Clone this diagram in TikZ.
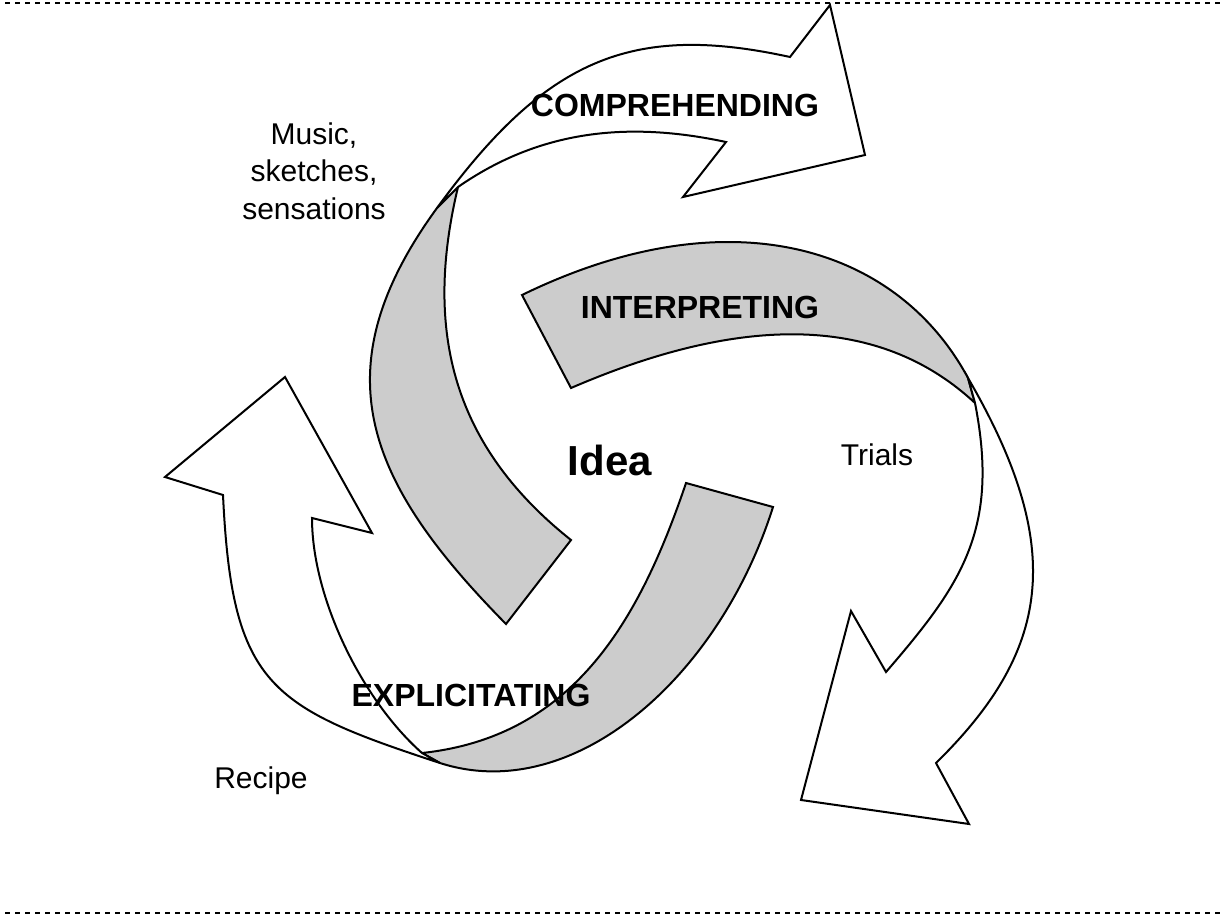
\documentclass[tikz,border=0pt]{standalone}
\usepackage{fontspec}
\setmainfont{Liberation Sans}
\definecolor{grisruban}{HTML}{CCCCCC}
\tikzset{
  rib/.style = {draw=black, line width=2pt, line join=miter},
  rib_g/.style = {rib, fill=grisruban},% ruban, face grise (arriere)
  rib_b/.style = {rib, fill=white},% ruban, face blanche avec la fleche
  lbl_n/.style = {inner sep=0pt, anchor=base,
    font=\fontsize{30}{37.5}\selectfont},% texte normal
  lbl_b/.style = {inner sep=0pt, anchor=base,
    font=\fontsize{32}{38}\selectfont\bfseries},% texte gras
  sep/.style = {line width=2.6pt, dash pattern=on 4.5pt off 5.5pt}
}
\begin{document}
\begin{tikzpicture}[x=1pt,y=-1pt]
\useasboundingbox (0,0) rectangle (1220,915);
\draw[sep] (5,3) -- (1220,3);
\draw[sep] (5,913) -- (1220,913);
% comprehending
\draw[rib_g] (506,624) .. controls (366,482) and (319,370) .. (437,208)
  -- (458,187) .. controls (423,333) and (454,447) .. (571,540) -- cycle;
\draw[rib_b] (458,187) .. controls (540,130) and (628,121) .. (726,142)
  -- (683,197) -- (865,155) -- (830,5) -- (790,57)
  .. controls (630,22) and (545,60) .. (437,208) -- cycle;
% interpreting
\draw[rib_g] (522,295) .. controls (729,194) and (897,246) .. (968,378)
  -- (975,403) .. controls (887,321) and (756,308) .. (571,388) -- cycle;
\draw[rib_b] (975,403) .. controls (1000,530) and (961,585) .. (886,672)
  -- (851,611) -- (801,800) -- (969,824) -- (936,763)
  .. controls (1049,652) and (1068,550) .. (968,378) -- cycle;
% explicitating
\draw[rib_g] (686,483) -- (773,507) .. controls (719,678) and (573,806) .. (440,763)
  -- (422,753) .. controls (571,737) and (638,625) .. (686,483) -- cycle;
\draw[rib_b] (422,753) .. controls (362,700) and (312,598) .. (312,518)
  -- (372,533) -- (285,377) -- (165,477) -- (223,495)
  .. controls (232,685) and (269,707) .. (440,763) -- cycle;
% textes
\node[lbl_b] (comp) at (675,117) {COMPREHENDING};
\node[lbl_b] (interp) at (700,318) {INTERPRETING};
\node[lbl_b] (explic) at (471,706) {EXPLICITATING};
\node[lbl_b, font=\fontsize{42}{48}\selectfont\bfseries] (idee) at (610,475) {Idea};
\node[lbl_n] (essais) at (877,465) {Trials};
\node[lbl_n] (recette) at (261,788) {Recipe};
\node[lbl_n, anchor=center, align=center] (musique) at (314,171)
  {Music,\\sketches,\\sensations};
\end{tikzpicture}
\end{document}
